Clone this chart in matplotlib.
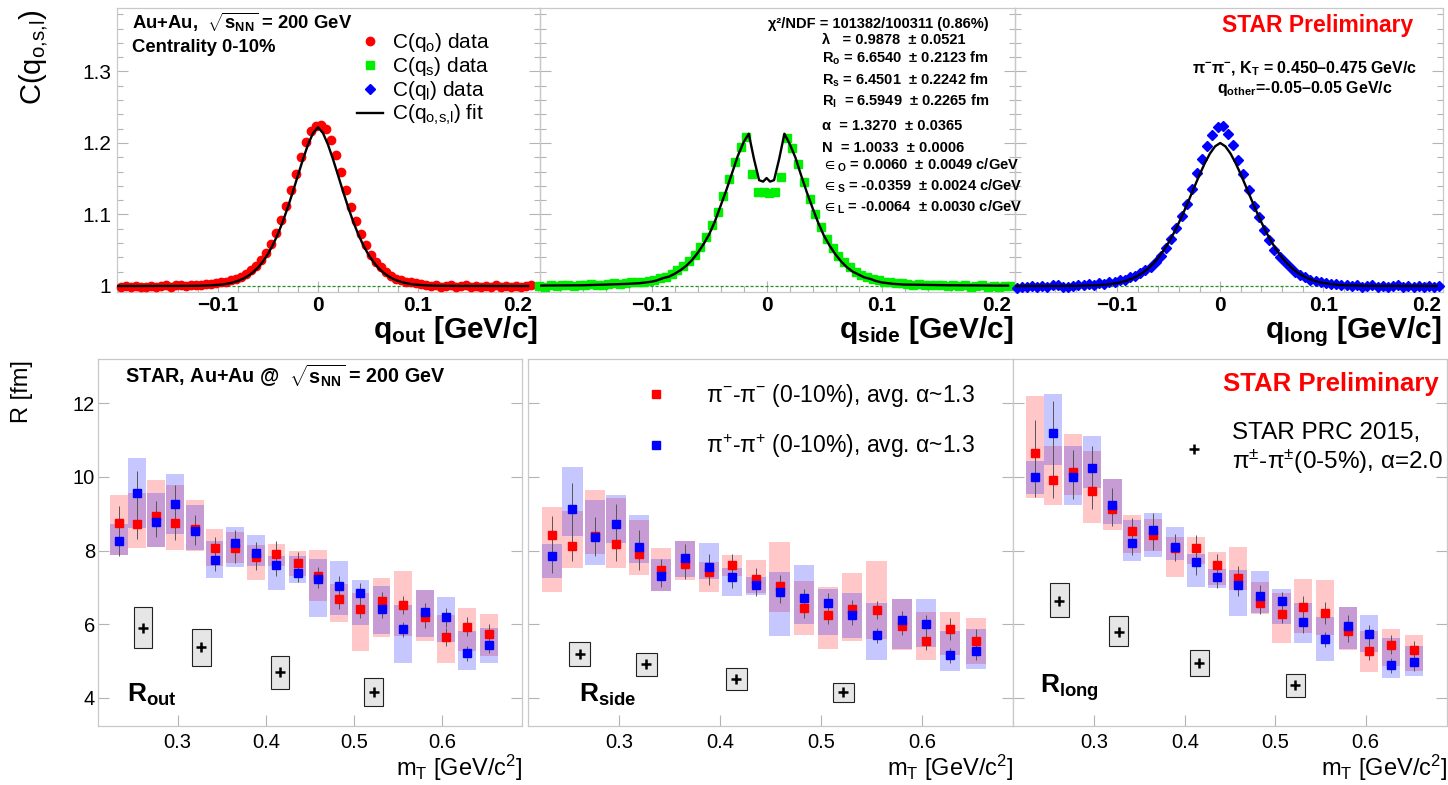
import numpy as np
import matplotlib
matplotlib.use('Agg')
import matplotlib.pyplot as plt
from matplotlib.lines import Line2D
from matplotlib.ticker import MultipleLocator

plt.rcParams['font.family'] = ['Liberation Sans', 'DejaVu Sans']
plt.rcParams['mathtext.fontset'] = 'custom'
plt.rcParams['mathtext.rm'] = 'Liberation Sans'
plt.rcParams['mathtext.it'] = 'Liberation Sans:italic'
plt.rcParams['mathtext.bf'] = 'Liberation Sans:bold'
plt.rcParams['mathtext.default'] = 'regular'

# ---------------- top row: correlation functions ----------------
q_bins = [-0.1975, -0.1925, -0.1875, -0.1825, -0.1775, -0.1725, -0.1675, -0.1625, -0.1575, -0.1525,
          -0.1475, -0.1425, -0.1375, -0.1325, -0.1275, -0.1225, -0.1175, -0.1125, -0.1075, -0.1025,
          -0.0975, -0.0925, -0.0875, -0.0825, -0.0775, -0.0725, -0.0675, -0.0625, -0.0575, -0.0525,
          -0.0475, -0.0425, -0.0375, -0.0325, -0.0275, -0.0225, -0.0175, -0.0125, -0.0075, -0.0025,
          0.0025, 0.0075, 0.0125, 0.0175, 0.0225, 0.0275, 0.0325, 0.0375, 0.0425, 0.0475,
          0.0525, 0.0575, 0.0625, 0.0675, 0.0725, 0.0775, 0.0825, 0.0875, 0.0925, 0.0975,
          0.1025, 0.1075, 0.1125, 0.1175, 0.1225, 0.1275, 0.1325, 0.1375, 0.1425, 0.1475,
          0.1525, 0.1575, 0.1625, 0.1675, 0.1725, 0.1775, 0.1825, 0.1875, 0.1925, 0.1975,
          0.2025, 0.2075, 0.2125]

c_out = [0.998, 1.000, 0.999, 1.000, 0.998, 0.999, 1.000, 0.998, 1.000, 1.001,
         0.999, 1.002, 1.001, 1.000, 1.002, 1.002, 1.001, 1.003, 1.003, 1.004,
         1.005, 1.006, 1.008, 1.010, 1.013, 1.017, 1.022, 1.028, 1.036, 1.046,
         1.059, 1.074, 1.092, 1.112, 1.134, 1.157, 1.181, 1.202, 1.217, 1.224,
         1.225, 1.219, 1.204, 1.183, 1.159, 1.134, 1.111, 1.091, 1.073, 1.057,
         1.044, 1.034, 1.026, 1.019, 1.014, 1.010, 1.008, 1.006, 1.005, 1.004,
         1.003, 1.001, 1.000, 1.001, 0.999, 1.000, 1.001, 0.999, 1.000, 1.001,
         0.999, 1.000, 0.998, 1.000, 0.999, 1.001, 0.999, 1.000, 0.999, 1.000,
         0.999, 1.000, 1.002]

c_side = [1.000, 0.999, 1.001, 1.000, 1.002, 1.001, 1.000, 1.002, 1.001, 1.003,
          1.002, 1.002, 1.003, 1.004, 1.003, 1.004, 1.005, 1.005, 1.006, 1.007,
          1.009, 1.011, 1.013, 1.017, 1.022, 1.028, 1.035, 1.044, 1.055, 1.068,
          1.085, 1.104, 1.126, 1.150, 1.173, 1.195, 1.209, 1.157, 1.131, 1.131,
          1.130, 1.132, 1.153, 1.207, 1.193, 1.170, 1.146, 1.122, 1.101, 1.082,
          1.066, 1.053, 1.042, 1.033, 1.026, 1.020, 1.016, 1.013, 1.010, 1.008,
          1.006, 1.005, 1.004, 1.004, 1.003, 1.002, 1.003, 1.002, 1.001, 1.002,
          1.001, 1.000, 1.001, 1.000, 1.001, 0.999, 1.000, 1.001, 0.999, 1.000,
          0.999, 1.000, 1.000]

c_long = [0.997, 0.999, 0.998, 1.000, 0.999, 1.000, 0.999, 1.001, 1.002, 0.999,
          0.998, 1.000, 1.002, 1.001, 1.003, 1.002, 1.004, 1.003, 1.005, 1.005,
          1.008, 1.009, 1.012, 1.014, 1.018, 1.022, 1.027, 1.034, 1.042, 1.053,
          1.066, 1.081, 1.098, 1.114, 1.136, 1.158, 1.178, 1.196, 1.211, 1.223,
          1.224, 1.213, 1.197, 1.176, 1.156, 1.134, 1.112, 1.096, 1.079, 1.064,
          1.051, 1.041, 1.033, 1.026, 1.020, 1.015, 1.012, 1.009, 1.007, 1.006,
          1.004, 1.003, 1.003, 1.001, 1.002, 1.000, 1.001, 0.999, 1.000, 1.001,
          0.999, 1.000, 0.999, 1.000, 1.001, 0.999, 1.000, 0.999, 1.000, 0.999,
          1.000, 0.999, 1.000]

fit_q = [-0.20, -0.18, -0.16, -0.14, -0.12, -0.11,
         -0.100, -0.095, -0.090, -0.085, -0.080, -0.075, -0.070, -0.065, -0.060, -0.055,
         -0.050, -0.045, -0.040, -0.035, -0.030, -0.025, -0.020, -0.015, -0.010, -0.005,
         0.0,
         0.005, 0.010, 0.015, 0.020, 0.025, 0.030, 0.035, 0.040, 0.045, 0.050,
         0.055, 0.060, 0.065, 0.070, 0.075, 0.080, 0.085, 0.090, 0.095, 0.100,
         0.11, 0.12, 0.14, 0.16, 0.18, 0.20, 0.21]

fit_out = [1.000, 1.000, 1.0001, 1.0001, 1.0003, 1.0007,
           1.0016, 1.0023, 1.0034, 1.0050, 1.0071, 1.0101, 1.0140, 1.0191, 1.0258, 1.0343,
           1.0449, 1.0578, 1.0731, 1.0908, 1.1108, 1.1325, 1.1550, 1.1773, 1.1977, 1.2138,
           1.2220,
           1.2138, 1.1977, 1.1773, 1.1550, 1.1325, 1.1108, 1.0908, 1.0731, 1.0578, 1.0449,
           1.0343, 1.0258, 1.0191, 1.0140, 1.0101, 1.0071, 1.0050, 1.0034, 1.0023, 1.0016,
           1.0007, 1.0003, 1.0001, 1.0001, 1.000, 1.000, 1.000]

fit_long = [1.000, 1.000, 1.0001, 1.0002, 1.0010, 1.0021,
            1.0042, 1.0058, 1.0079, 1.0107, 1.0143, 1.0188, 1.0244, 1.0313, 1.0396, 1.0495,
            1.0610, 1.0741, 1.0888, 1.1047, 1.1216, 1.1388, 1.1558, 1.1716, 1.1852, 1.1953,
            1.2000,
            1.1953, 1.1852, 1.1716, 1.1558, 1.1388, 1.1216, 1.1047, 1.0888, 1.0741, 1.0610,
            1.0495, 1.0396, 1.0313, 1.0244, 1.0188, 1.0143, 1.0107, 1.0079, 1.0058, 1.0042,
            1.0021, 1.0010, 1.0002, 1.0001, 1.000, 1.000, 1.000]

side_fit_q = [-0.20, -0.18, -0.16, -0.14, -0.12, -0.11,
              -0.100, -0.095, -0.090, -0.085, -0.080, -0.075, -0.070, -0.065, -0.060, -0.055,
              -0.050, -0.045, -0.040, -0.035, -0.030, -0.025, -0.020,
              -0.0155, -0.011, -0.0065, -0.003, 0.0, 0.003, 0.0065, 0.011, 0.0155,
              0.020, 0.025, 0.030, 0.035, 0.040, 0.045, 0.050,
              0.055, 0.060, 0.065, 0.070, 0.075, 0.080, 0.085, 0.090, 0.095, 0.100,
              0.11, 0.12, 0.14, 0.16, 0.18, 0.20, 0.21]

fit_side = [1.0005, 1.0008, 1.001, 1.002, 1.003, 1.004,
            1.006, 1.008, 1.011, 1.013, 1.017, 1.022, 1.028, 1.036, 1.046, 1.058,
            1.072, 1.090, 1.112, 1.134, 1.158, 1.182, 1.201,
            1.213, 1.178, 1.148, 1.146, 1.151, 1.146, 1.148, 1.178, 1.213,
            1.199, 1.180, 1.155, 1.131, 1.109, 1.088, 1.070,
            1.056, 1.044, 1.034, 1.026, 1.020, 1.016, 1.012, 1.010, 1.007, 1.005,
            1.003, 1.002, 1.0015, 1.001, 1.0008, 1.0005, 1.0005]

# ---------------- bottom row: radii vs mT ----------------
mt = [0.234, 0.254, 0.276, 0.297, 0.320, 0.342, 0.365, 0.389, 0.412, 0.436,
      0.459, 0.483, 0.507, 0.531, 0.555, 0.580, 0.604, 0.628, 0.653]

# pi- pi- (red) and pi+ pi+ (blue): value, systematic low/high, statistical error
rout_neg = [8.75, 8.71, 8.94, 8.75, 8.59, 8.07, 8.07, 7.83, 7.92, 7.66, 7.30, 6.68, 6.42, 6.64, 6.52, 6.21, 5.65, 5.94, 5.75]
rout_neg_lo = [7.87, 8.07, 8.10, 8.03, 7.98, 7.57, 7.66, 7.19, 7.57, 7.30, 6.62, 6.05, 5.27, 5.66, 5.68, 5.55, 4.94, 5.27, 5.14]
rout_neg_hi = [9.51, 9.55, 9.91, 9.77, 9.36, 8.59, 8.50, 8.14, 8.18, 7.98, 8.03, 7.10, 6.85, 7.27, 7.45, 6.94, 6.25, 6.43, 6.28]
rout_neg_st = [0.47, 0.40, 0.40, 0.45, 0.38, 0.30, 0.40, 0.35, 0.35, 0.30, 0.25, 0.27, 0.25, 0.25, 0.25, 0.30, 0.25, 0.25, 0.25]
rout_pos = [8.25, 9.55, 8.78, 9.27, 8.53, 7.75, 8.21, 7.94, 7.61, 7.39, 7.23, 7.05, 6.86, 6.41, 5.86, 6.34, 6.19, 5.21, 5.43]
rout_pos_lo = [7.87, 8.60, 8.10, 8.45, 8.03, 7.25, 7.55, 7.57, 6.94, 7.12, 6.21, 6.25, 5.98, 5.75, 4.95, 5.66, 5.53, 4.77, 4.95]
rout_pos_hi = [8.71, 10.51, 9.55, 10.09, 9.23, 8.25, 8.63, 8.41, 7.85, 7.85, 7.77, 7.73, 7.21, 7.05, 6.53, 6.94, 6.75, 5.82, 5.91]
rout_pos_st = [0.40, 0.60, 0.40, 0.50, 0.38, 0.30, 0.35, 0.30, 0.30, 0.25, 0.25, 0.27, 0.25, 0.25, 0.20, 0.25, 0.25, 0.20, 0.20]

rside_neg = [8.43, 8.12, 8.40, 8.17, 7.92, 7.47, 7.63, 7.43, 7.60, 7.22, 7.04, 6.43, 6.25, 6.42, 6.39, 5.96, 5.54, 5.88, 5.56]
rside_neg_lo = [6.88, 7.52, 7.92, 7.54, 7.34, 6.90, 7.19, 6.88, 7.31, 6.86, 6.34, 5.71, 5.33, 5.56, 5.59, 5.29, 5.02, 5.16, 4.91]
rside_neg_hi = [9.19, 9.08, 9.64, 9.43, 8.83, 8.08, 8.26, 7.70, 7.87, 7.74, 8.24, 7.18, 7.01, 7.38, 7.72, 6.69, 6.33, 6.34, 6.18]
rside_neg_st = [0.50, 0.40, 0.50, 0.45, 0.45, 0.30, 0.40, 0.35, 0.30, 0.30, 0.30, 0.25, 0.25, 0.25, 0.25, 0.25, 0.25, 0.30, 0.30]
rside_pos = [7.85, 9.14, 8.36, 8.71, 8.10, 7.31, 7.79, 7.56, 7.28, 7.06, 6.88, 6.72, 6.59, 6.24, 5.70, 6.11, 6.01, 5.16, 5.27]
rside_pos_lo = [7.25, 8.40, 7.61, 8.21, 7.67, 6.90, 7.28, 7.22, 6.77, 6.79, 5.68, 6.00, 5.72, 5.63, 5.02, 5.32, 5.39, 4.73, 4.79]
rside_pos_hi = [8.17, 10.26, 9.38, 9.51, 8.97, 7.77, 8.26, 8.22, 7.54, 7.29, 7.43, 7.60, 6.95, 6.84, 6.57, 6.69, 6.69, 5.81, 5.88]
rside_pos_st = [0.45, 0.70, 0.50, 0.55, 0.45, 0.30, 0.40, 0.35, 0.30, 0.30, 0.30, 0.25, 0.25, 0.25, 0.20, 0.25, 0.25, 0.20, 0.25]

rlong_neg = [10.64, 9.92, 10.13, 9.63, 9.13, 8.53, 8.42, 8.07, 8.07, 7.60, 7.27, 6.59, 6.29, 6.47, 6.30, 5.81, 5.27, 5.45, 5.29]
rlong_neg_lo = [9.42, 9.25, 9.52, 8.75, 8.56, 7.93, 7.99, 7.29, 7.65, 7.06, 6.93, 6.27, 5.50, 5.77, 5.71, 5.29, 4.71, 4.86, 4.74]
rlong_neg_hi = [12.19, 10.84, 11.17, 10.69, 9.95, 8.97, 8.85, 8.38, 8.36, 7.97, 8.10, 7.16, 6.86, 7.22, 7.19, 6.47, 5.81, 5.86, 5.72]
rlong_neg_st = [0.90, 0.50, 0.60, 0.50, 0.45, 0.35, 0.40, 0.35, 0.35, 0.30, 0.30, 0.30, 0.25, 0.30, 0.30, 0.30, 0.25, 0.25, 0.25]
rlong_pos = [10.01, 11.20, 10.01, 10.23, 9.24, 8.22, 8.56, 8.10, 7.68, 7.29, 7.06, 6.77, 6.63, 6.07, 5.59, 5.95, 5.74, 4.89, 4.97]
rlong_pos_lo = [9.54, 10.31, 9.25, 9.69, 8.72, 7.72, 7.83, 7.74, 7.01, 6.99, 6.22, 6.31, 6.00, 5.48, 5.00, 5.32, 5.24, 4.54, 4.61]
rlong_pos_hi = [10.42, 12.26, 10.84, 11.11, 9.95, 8.83, 9.01, 8.63, 7.92, 7.51, 7.48, 7.45, 6.97, 6.59, 6.20, 6.47, 6.24, 5.62, 5.42]
rlong_pos_st = [0.55, 0.85, 0.60, 0.60, 0.45, 0.35, 0.45, 0.35, 0.35, 0.30, 0.30, 0.30, 0.25, 0.30, 0.20, 0.30, 0.25, 0.20, 0.25]

# STAR PRC 2015 (0-5%)
prc_mt = [0.261, 0.327, 0.416, 0.522]
prc_rout = [5.91, 5.39, 4.71, 4.15]
prc_rout_lo = [5.35, 4.86, 4.25, 3.77]
prc_rout_hi = [6.46, 5.88, 5.15, 4.55]
prc_rside = [5.20, 4.91, 4.52, 4.15]
prc_rside_lo = [4.86, 4.59, 4.23, 3.88]
prc_rside_hi = [5.52, 5.22, 4.82, 4.41]
prc_rlong = [6.64, 5.80, 4.96, 4.34]
prc_rlong_lo = [6.19, 5.40, 4.61, 4.03]
prc_rlong_hi = [7.13, 6.23, 5.30, 4.65]

# ---------------- figure ----------------
W, H = 1448, 785
fig = plt.figure(figsize=(W / 100, H / 100), dpi=100)


def px_axes(box):
    x0, y0, x1, y1 = box
    return fig.add_axes([x0 / W, 1 - y1 / H, (x1 - x0) / W, (y1 - y0) / H])


def fpos(px, py):
    return px / W, 1 - py / H


def frame(ax):
    for s in ax.spines.values():
        s.set_color('#c8c8c8')
        s.set_linewidth(0.9)
    ax.tick_params(which='both', direction='in', color='#b4b4b4', width=0.8,
                   top=False, right=True)


top_boxes = [(117, 8, 540, 292), (540, 8, 1015, 292), (1015, 8, 1443, 292)]
top_xlims = [(-0.201, 0.222), (-0.197, 0.216), (-0.199, 0.216)]
top_series = [(c_out, 'o', '#ff0000', 6.0, fit_q, fit_out),
              (c_side, 's', '#00ee00', 5.8, side_fit_q, fit_side),
              (c_long, 'D', '#0000ff', 5.0, fit_q, fit_long)]

top_axes = []
for i in range(3):
    cdat, mk, col, ms, fq, fc = top_series[i]
    ax = px_axes(top_boxes[i])
    ax.set_facecolor('none')
    ax.axhline(1.0, color='#2a8c2a', lw=0.9, ls=(0, (2.5, 1.5)), zorder=2)
    ax.plot(q_bins, cdat, ls='none', marker=mk, color=col, mec=col, ms=ms,
            clip_on=False, zorder=3)
    ax.plot(fq, fc, color='black', lw=1.7, zorder=4)
    ax.set_xlim(*top_xlims[i])
    ax.set_ylim(0.9916, 1.3888)
    frame(ax)
    ax.set_xticks([-0.1, 0.0, 0.1, 0.2])
    ax.set_xticklabels(['\u22120.1', '0', '0.1', '0.2'], fontsize=15, fontweight='bold')
    ax.xaxis.set_minor_locator(MultipleLocator(0.02))
    ax.set_yticks([1.0, 1.1, 1.2, 1.3])
    ax.yaxis.set_minor_locator(MultipleLocator(0.02))
    ax.tick_params(which='major', length=8)
    ax.tick_params(which='minor', length=4)
    ax.tick_params(axis='x', pad=3)
    if i == 0:
        ax.set_yticklabels(['1', '1.1', '1.2', '1.3'], fontsize=15)
        ax.tick_params(axis='y', pad=4)
    else:
        ax.tick_params(labelleft=False)
    top_axes.append(ax)

fig.text(*fpos(33, 10), r"C(q$_{o{,}s{,}l}$)", fontsize=21, rotation=90, ha='center', va='top')
for xr, name in [(538, 'out'), (1013, 'side'), (1442, 'long')]:
    fig.text(*fpos(xr, 338), r"q$_{%s}$ [GeV/c]" % name, fontsize=21.5,
             fontweight='bold', ha='right', va='baseline')

# top-left panel texts and legend
fig.text(*fpos(132, 29), r"Au+Au,  $\sqrt{s_{NN}}$ = 200 GeV", fontsize=13.3,
         fontweight='bold', va='baseline')
fig.text(*fpos(132, 52), "Centrality 0-10%", fontsize=13.3, fontweight='bold', va='baseline')
handles = [Line2D([], [], ls='none', marker='o', color='#ff0000', ms=6),
           Line2D([], [], ls='none', marker='s', color='#00ee00', ms=5.8),
           Line2D([], [], ls='none', marker='D', color='#0000ff', ms=5.0),
           Line2D([], [], color='black', lw=1.7)]
labels = [r"C(q$_{o}$) data", r"C(q$_{s}$) data", r"C(q$_{l}$) data", r"C(q$_{o{,}s{,}l}$) fit"]
top_axes[0].legend(handles, labels, loc='upper left', bbox_to_anchor=fpos(357, 31),
                   bbox_transform=fig.transFigure, frameon=False, fontsize=15,
                   handlelength=1.25, handletextpad=0.43, labelspacing=0.05,
                   borderpad=0, borderaxespad=0)

# top-middle fit results
fit_lines = [(768, 28, "\u03c7\u00b2/NDF = 101382/100311 (0.86%)"),
             (822, 44, "\u03bb   = 0.9878  \u00b1 0.0521"),
             (822, 63, r"R$_{o}$ = 6.6540  $\pm$ 0.2123 fm"),
             (822, 85, r"R$_{s}$ = 6.4501  $\pm$ 0.2242 fm"),
             (822, 106, r"R$_{l}$  = 6.5949  $\pm$ 0.2265 fm"),
             (822, 130, "\u03b1  = 1.3270  \u00b1 0.0365"),
             (822, 152, "N  = 1.0033  \u00b1 0.0006"),
             (822, 170, r"$\in_{O}$ = 0.0060  $\pm$ 0.0049 c/GeV"),
             (822, 191, r"$\in_{S}$ = -0.0359  $\pm$ 0.0024 c/GeV"),
             (822, 212, r"$\in_{L}$ = -0.0064  $\pm$ 0.0030 c/GeV")]
for px, py, s in fit_lines:
    fig.text(*fpos(px, py), s, fontsize=10.5, fontweight='bold', va='baseline')

# top-right texts
fig.text(*fpos(1222, 32), "STAR Preliminary", fontsize=16.5, fontweight='bold',
         color='#ff0000', va='baseline')
fig.text(*fpos(1305, 73), r"$\pi^{-}\pi^{-}$, K$_{T}$ = 0.450" + "\u2013" + "0.475 GeV/c",
         fontsize=11.5, fontweight='bold', ha='center', va='baseline')
fig.text(*fpos(1305, 93), r"q$_{other}$=-0.05" + "\u2013" + "0.05 GeV/c", fontsize=11.5,
         fontweight='bold', ha='center', va='baseline')

# ---------------- bottom row ----------------
bot_boxes = [(98, 359, 522, 726), (528, 359, 1013, 726), (1013, 359, 1447, 726)]
bot_series = [(rout_neg, rout_neg_lo, rout_neg_hi, rout_neg_st,
               rout_pos, rout_pos_lo, rout_pos_hi, rout_pos_st,
               prc_rout, prc_rout_lo, prc_rout_hi),
              (rside_neg, rside_neg_lo, rside_neg_hi, rside_neg_st,
               rside_pos, rside_pos_lo, rside_pos_hi, rside_pos_st,
               prc_rside, prc_rside_lo, prc_rside_hi),
              (rlong_neg, rlong_neg_lo, rlong_neg_hi, rlong_neg_st,
               rlong_pos, rlong_pos_lo, rlong_pos_hi, rlong_pos_st,
               prc_rlong, prc_rlong_lo, prc_rlong_hi)]

bot_axes = []
for i in range(3):
    (rn, rn_lo, rn_hi, rn_st, rp, rp_lo, rp_hi, rp_st, pr, pr_lo, pr_hi) = bot_series[i]
    ax = px_axes(bot_boxes[i])
    ax.bar(mt, np.subtract(rn_hi, rn_lo), bottom=rn_lo, width=0.02,
           color='#ff0000', alpha=0.22, lw=0, zorder=1)
    ax.bar(mt, np.subtract(rp_hi, rp_lo), bottom=rp_lo, width=0.02,
           color='#0000ff', alpha=0.22, lw=0, zorder=1)
    ax.bar(prc_mt, np.subtract(pr_hi, pr_lo), bottom=pr_lo, width=0.021,
           facecolor='#e6e6e6', edgecolor='#222222', lw=0.8, zorder=2)
    ax.plot(prc_mt, pr, ls='none', marker='+', color='black', ms=7, mew=1.8, zorder=3)
    ax.errorbar(mt, rn, yerr=rn_st, fmt='none', ecolor='#555555', elinewidth=0.7, zorder=3)
    ax.errorbar(mt, rp, yerr=rp_st, fmt='none', ecolor='#555555', elinewidth=0.7, zorder=3)
    ax.plot(mt, rn, ls='none', marker='s', color='#ff0000', ms=5.3, zorder=4)
    ax.plot(mt, rp, ls='none', marker='s', color='#0000ff', ms=5.3, zorder=5)
    ax.set_xlim(0.21, 0.69)
    ax.set_ylim(3.24, 13.2)
    frame(ax)
    ax.set_xticks([0.3, 0.4, 0.5, 0.6])
    ax.set_xticklabels(['0.3', '0.4', '0.5', '0.6'], fontsize=14.5)
    ax.set_yticks([4, 6, 8, 10, 12])
    ax.tick_params(which='major', length=8)
    ax.tick_params(axis='x', pad=5)
    if i == 0:
        ax.set_yticklabels(['4', '6', '8', '10', '12'], fontsize=14.5)
        ax.tick_params(axis='y', pad=2)
    else:
        ax.tick_params(labelleft=False)
    bot_axes.append(ax)

fig.text(*fpos(22, 360), "R [fm]", fontsize=17, rotation=90, ha='center', va='top')
for xr in [522, 1013, 1447]:
    fig.text(*fpos(xr, 776), r"m$_{T}$ [GeV/c$^{2}$]", fontsize=17, ha='right', va='baseline')

fig.text(*fpos(127, 702), r"R$_{out}$", fontsize=19, fontweight='bold', va='baseline')
fig.text(*fpos(579, 702), r"R$_{side}$", fontsize=19, fontweight='bold', va='baseline')
fig.text(*fpos(1040, 693), r"R$_{long}$", fontsize=19, fontweight='bold', va='baseline')

fig.text(*fpos(125, 383), r"STAR, Au+Au @  $\sqrt{s_{NN}}$ = 200 GeV", fontsize=14.2,
         fontweight='bold', va='baseline')
fig.text(*fpos(1223, 391), "STAR Preliminary", fontsize=18.5, fontweight='bold',
         color='#ff0000', va='baseline')

leg_pi = bot_axes[1].legend(
    [Line2D([], [], ls='none', marker='s', color='#ff0000', ms=5.3),
     Line2D([], [], ls='none', marker='s', color='#0000ff', ms=5.3)],
    [r"$\pi^{-}$-$\pi^{-}$ (0-10%), avg. $\alpha$~1.3",
     r"$\pi^{+}$-$\pi^{+}$ (0-10%), avg. $\alpha$~1.3"],
    loc='center left', bbox_to_anchor=fpos(640, 421), bbox_transform=fig.transFigure,
    frameon=False, fontsize=16.5, handlelength=1.4, handletextpad=1.5,
    labelspacing=1.0, borderpad=0, borderaxespad=0)

leg_prc = bot_axes[2].legend(
    [Line2D([], [], ls='none', marker='+', color='black', ms=7, mew=1.8)],
    ["STAR PRC 2015,\n" + r"$\pi^{\pm}$-$\pi^{\pm}$(0-5%), $\alpha$=2.0"],
    loc='center left', bbox_to_anchor=fpos(1181, 449), bbox_transform=fig.transFigure,
    frameon=False, fontsize=17.5, handlelength=1.1, handletextpad=1.0,
    borderpad=0, borderaxespad=0)
leg_prc.get_texts()[0].set_linespacing(1.2)

fig.savefig('out.png', dpi=100)
